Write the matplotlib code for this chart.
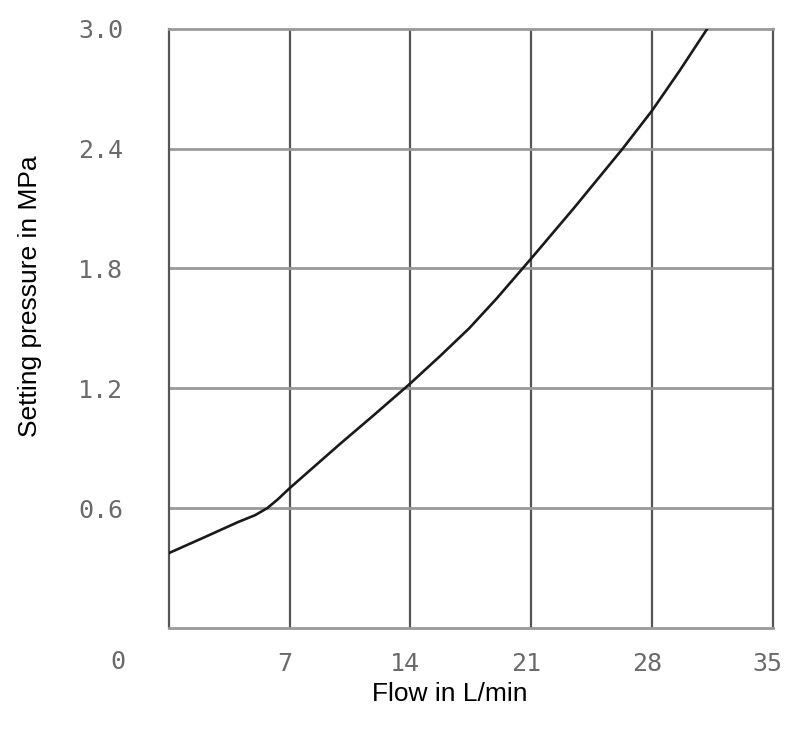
import matplotlib
matplotlib.use('Agg')
import matplotlib.pyplot as plt
import matplotlib.transforms as mtransforms

# Werte
flow = [0, 2, 4, 5, 5.7, 6.3, 7, 9.9, 11.8, 14, 15.7, 17.4, 19.0, 20.3, 21, 23.5, 26.3, 28, 29.6, 31.2]
pressure = [0.375, 0.452, 0.53, 0.565, 0.60, 0.643, 0.70, 0.92, 1.06, 1.225, 1.36, 1.50, 1.65,
            1.78, 1.85, 2.105, 2.40, 2.59, 2.79, 3.0]

x_ticks = [7, 14, 21, 28, 35]
y_ticks = [0.6, 1.2, 1.8, 2.4, 3.0]
x_tick_labels = ['7', '14', '21', '28', '35']
y_tick_labels = ['0.6', '1.2', '1.8', '2.4', '3.0']

fig = plt.figure(figsize=(8, 7.29), dpi=100)
ax = fig.add_axes([0.211, 0.1385, 0.755, 0.822])

ax.set_xlim(0, 35)
ax.set_ylim(0, 3.0)

# Gitter: senkrecht dunkel, waagerecht heller
for xv in x_ticks[:-1]:
    ax.axvline(xv, color='#555555', linewidth=1.6, zorder=1)
for yv in y_ticks[:-1]:
    ax.axhline(yv, color='#999999', linewidth=2.0, zorder=1)

ax.spines['left'].set_color('#555555')
ax.spines['right'].set_color('#555555')
ax.spines['top'].set_color('#999999')
ax.spines['bottom'].set_color('#999999')
ax.spines['left'].set_linewidth(1.6)
ax.spines['right'].set_linewidth(1.6)
ax.spines['top'].set_linewidth(2.0)
ax.spines['bottom'].set_linewidth(2.0)

ax.plot(flow, pressure, color='#1a1a1a', linewidth=1.9, zorder=3)

tick_font = dict(family='DejaVu Sans Mono', size=18, color='#6a6a6a')
ax.set_xticks(x_ticks)
ax.set_xticklabels(x_tick_labels, **tick_font)
ax.set_yticks(y_ticks)
ax.set_yticklabels(y_tick_labels, **tick_font)
ax.tick_params(axis='both', length=0)
ax.tick_params(axis='x', pad=17)
ax.tick_params(axis='y', pad=33)

# Beschriftungen leicht nach links verschieben
offset = mtransforms.ScaledTranslation(-5 / 100, 0, fig.dpi_scale_trans)
for lbl in ax.get_xticklabels():
    lbl.set_transform(lbl.get_transform() + offset)

ax.annotate('0', xy=(0, 0), xytext=(-51, -34), textcoords='offset pixels',
            ha='center', va='center', **tick_font)

ax.set_xlabel('Flow in L/min', fontsize=19, family='Liberation Sans', va='center')
ax.set_ylabel('Setting pressure in MPa', fontsize=19, family='Liberation Sans', va='center')
ax.xaxis.set_label_coords(0.465, -0.110)
ax.yaxis.set_label_coords(-0.230, 0.553)

fig.savefig('out.png', dpi=100)
